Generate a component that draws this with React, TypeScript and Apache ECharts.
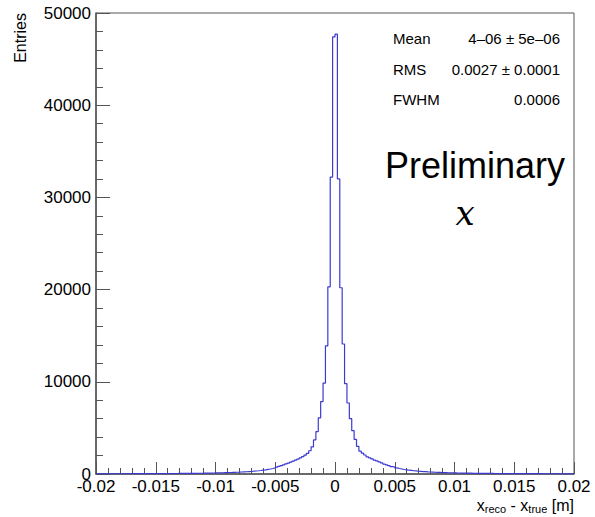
import React, { useEffect, useRef } from "react";
import * as echarts from "echarts";

// Histogram: 200 bins of width 0.0002 m from -0.02 to 0.02
const X_MIN = -0.02;
const X_MAX = 0.02;
const BIN_WIDTH = 0.0002;

// bins 0..99 (x from -0.02 to 0)
const leftCounts = [
  20, 21, 21, 22, 23, 23, 24, 25, 25, 26,
  27, 28, 28, 29, 30, 31, 32, 33, 34, 35,
  36, 37, 38, 39, 41, 42, 44, 45, 47, 48,
  50, 52, 54, 56, 58, 60, 63, 65, 68, 71,
  74, 77, 81, 84, 88, 93, 97, 102, 108, 113,
  120, 127, 135, 143, 151, 161, 170, 181, 191, 203,
  216, 231, 246, 263, 281, 302, 325, 352, 380, 415,
  450, 495, 540, 595, 655, 735, 820, 905, 990, 1100,
  1190, 1290, 1400, 1510, 1610, 1740, 1880, 2040, 2230, 2520,
  2950, 3700, 4600, 6090, 7860, 9860, 13900, 20300, 32200, 47400,
];

// bins 100..199 (x from 0 to 0.02)
const rightCounts = [
  47700, 32000, 20200, 14100, 9800, 7700, 6000, 4700, 3750, 3000,
  2480, 2260, 2060, 1860, 1750, 1630, 1500, 1420, 1310, 1200,
  1080, 1000, 910, 810, 740, 660, 600, 545, 490, 455,
  410, 385, 350, 330, 300, 285, 260, 248, 229, 218,
  205, 190, 179, 171, 160, 153, 142, 136, 128, 121,
  112, 107, 103, 98, 92, 89, 85, 80, 78, 73,
  70, 68, 66, 62, 61, 58, 55, 54, 51, 50,
  49, 46, 45, 43, 42, 40, 39, 38, 36, 35,
  34, 33, 32, 31, 31, 30, 29, 28, 27, 26,
  26, 25, 24, 24, 23, 22, 22, 21, 20, 20,
];

const statLabels = ["Mean", "RMS", "FWHM"];
const statValues = ["4\u201306 \u00b1 5e\u201306", "0.0027 \u00b1 0.0001", "0.0006"];

const FONT = "'Liberation Sans', Arial, Helvetica, sans-serif";

export default function App() {
  const ref = useRef<HTMLDivElement>(null);

  useEffect(() => {
    document.body.style.margin = "0";
    if (!ref.current) return;
    const chart = echarts.init(ref.current, null, { renderer: "svg" });

    const counts = [...leftCounts, ...rightCounts];
    const points: number[][] = counts.map((c, i) => [X_MIN + i * BIN_WIDTH, c]);
    points.push([X_MAX, counts[counts.length - 1]]);

    const axisColor = "#555555";

    const statGraphics: any[] = [];
    const statY = [40, 71, 101];
    statLabels.forEach((lab, i) => {
      statGraphics.push({
        type: "text",
        left: 393,
        top: statY[i] - 9,
        style: { text: lab, font: `15px ${FONT}`, fill: "#000" },
      });
      statGraphics.push({
        type: "text",
        right: 35,
        top: statY[i] - 9,
        style: { text: statValues[i], font: `15px ${FONT}`, fill: "#000", textAlign: "right" },
      });
    });

    chart.setOption({
      animation: false,
      grid: {
        left: 96,
        right: 21,
        top: 13,
        bottom: 43,
        show: true,
        borderColor: axisColor,
        borderWidth: 1,
        backgroundColor: "transparent",
      },
      xAxis: {
        type: "value",
        min: X_MIN,
        max: X_MAX,
        interval: 0.005,
        axisLine: { show: true, onZero: false, lineStyle: { color: axisColor, width: 1.5 } },
        axisTick: { show: true, inside: true, length: 12, lineStyle: { color: axisColor, width: 1 } },
        minorTick: { show: true, splitNumber: 5, length: 6, lineStyle: { color: axisColor, width: 1 } },
        splitLine: { show: false },
        axisLabel: {
          color: "#000",
          fontFamily: FONT,
          fontSize: 17,
          margin: 4,
          formatter: (v: number) => String(Number(v.toFixed(4))),
        },
      },
      yAxis: {
        type: "value",
        min: 0,
        max: 50000,
        interval: 10000,
        axisLine: { show: true, onZero: false, lineStyle: { color: axisColor, width: 1.5 } },
        axisTick: { show: true, inside: true, length: 14, lineStyle: { color: axisColor, width: 1 } },
        minorTick: { show: true, splitNumber: 5, length: 7, lineStyle: { color: axisColor, width: 1 } },
        splitLine: { show: false },
        axisLabel: {
          color: "#000",
          fontFamily: FONT,
          fontSize: 17,
          margin: 5,
          formatter: (v: number) => String(v),
        },
      },
      series: [
        {
          type: "line",
          step: "end",
          data: points,
          symbol: "none",
          lineStyle: { color: "#3a3ad4", width: 1.2 },
        },
      ],
      graphic: [
        {
          type: "text",
          x: 20,
          y: 13,
          rotation: Math.PI / 2,
          style: {
            text: "Entries",
            font: `16px ${FONT}`,
            fill: "#000",
            textAlign: "right",
            textVerticalAlign: "middle",
          },
        },
        {
          type: "text",
          right: 21,
          top: 497,
          style: {
            text: "{m|x}{s|reco}{m| - x}{s|true}{m| [m]}",
            fill: "#000",
            rich: {
              m: { fontSize: 16, fontFamily: FONT, fill: "#000" },
              s: { fontSize: 11, fontFamily: FONT, fill: "#000", padding: [7, 0, 0, 0] },
            },
          },
        },
        ...statGraphics,
        {
          type: "text",
          x: 475,
          y: 165,
          style: {
            text: "Preliminary",
            font: `36px ${FONT}`,
            fill: "#000",
            textAlign: "center",
            textVerticalAlign: "middle",
          },
        },
        {
          type: "text",
          x: 465,
          y: 213,
          style: {
            text: "x",
            font: `italic 34px 'DejaVu Serif', 'Liberation Serif', serif`,
            fill: "#000",
            textAlign: "center",
            textVerticalAlign: "middle",
          },
        },
      ],
    });

    return () => {
      chart.dispose();
    };
  }, []);

  return <div ref={ref} style={{ width: 595, height: 517 }} />;
}
